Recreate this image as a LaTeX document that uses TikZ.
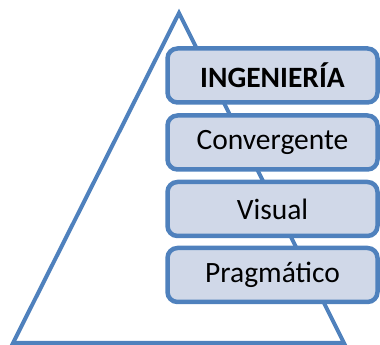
\documentclass[tikz,border=0pt]{standalone}
\usepackage{fontspec}
\setmainfont{Carlito}
\definecolor{accent}{HTML}{4F81BD}
\definecolor{boxfill}{HTML}{D0D8E8}
\begin{document}
\begin{tikzpicture}[x=1pt,y=1pt,
  levelbox/.style={draw=accent, fill=boxfill, line width=4.5pt, rounded corners=10pt,
    minimum width=210pt, minimum height=54pt, inner sep=0pt,
    font=\fontsize{29.5}{34}\selectfont, text=black}]
\useasboundingbox (0,0) rectangle (380,345);
\coordinate (apex) at (179,332);
\coordinate (bl) at (13,2);
\coordinate (br) at (344,2);
\draw[accent, line width=4pt, line join=miter] (apex) -- (bl) -- (br) -- cycle;
\node[levelbox] (ing) at (272.5,269.5) {\textbf{INGENIERÍA}};
\node[levelbox] (conv) at (272.5,202.5) {Convergente};
\node[levelbox] (vis) at (272.5,136) {Visual};
\node[levelbox] (prag) at (272.5,70) {Pragmático};
\end{tikzpicture}
\end{document}
